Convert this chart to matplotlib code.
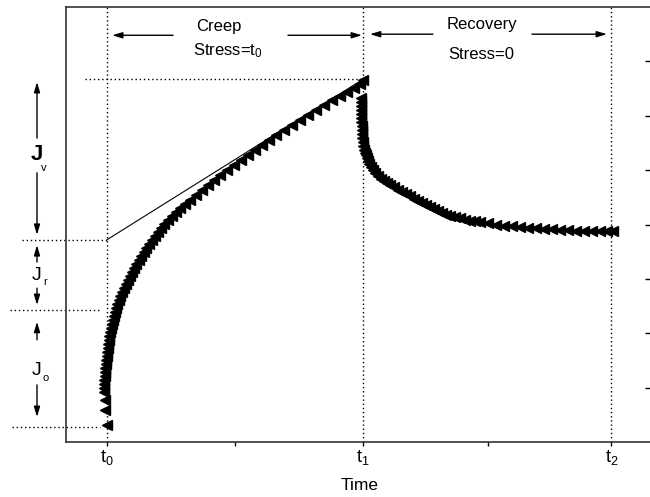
import matplotlib
matplotlib.use("Agg")
import matplotlib.pyplot as plt

plt.rcParams['font.family'] = ['Liberation Sans', 'DejaVu Sans']
plt.rcParams['mathtext.fontset'] = 'custom'
plt.rcParams['mathtext.rm'] = 'Liberation Sans'
plt.rcParams['mathtext.it'] = 'Liberation Sans'

# ---- data (time in arbitrary units: t0=0, t1=100, t2~197) ----
creep_t = [0, -0.8, -0.8, -1.2, -1.2, -1.2, -1.2, -0.8, -0.8, -0.8, -0.4, -0.4, 0, 0,
           0.4, 0.4, 0.8, 0.8, 1.2, 1.6, 2.0, 2.3, 2.7, 3.1, 3.5, 3.9, 4.7, 5.1, 5.9,
           6.6, 7.4, 8.2, 9.0, 9.8, 10.5, 11.3, 12.5, 13.3, 14.5, 15.2, 16.4, 17.6,
           18.8, 19.9, 21.1, 22.3, 23.8, 25.4, 27.0, 28.5, 30.5, 32.4, 34.8, 37.1,
           39.5, 41.8, 44.1, 46.9, 49.6, 52.3, 55.1, 57.8, 60.5, 63.3, 66.0, 69.1,
           72.3, 75.4, 78.5, 81.6, 84.8, 87.9, 91.0, 93.8, 96.5, 98.8, 100]
creep_j = [0.31, 0.59, 0.77, 0.92, 0.99, 1.07, 1.14, 1.21, 1.29, 1.36, 1.43, 1.51, 1.58,
           1.65, 1.73, 1.80, 1.88, 1.95, 2.02, 2.10, 2.17, 2.24, 2.32, 2.39, 2.46,
           2.54, 2.61, 2.68, 2.76, 2.83, 2.90, 2.98, 3.05, 3.13, 3.20, 3.27, 3.35,
           3.42, 3.49, 3.57, 3.64, 3.71, 3.79, 3.86, 3.93, 4.01, 4.08, 4.15, 4.23,
           4.30, 4.38, 4.45, 4.54, 4.63, 4.72, 4.82, 4.91, 5.00, 5.09, 5.18, 5.28,
           5.37, 5.46, 5.55, 5.64, 5.74, 5.83, 5.92, 6.01, 6.10, 6.19, 6.29, 6.36,
           6.43, 6.51, 6.58, 6.65]

recov_t = [99.2, 99.2, 99.2, 99.2, 99.2, 99.2, 99.2, 99.6, 99.6, 99.6, 99.6, 100.0,
           100.0, 100.4, 100.8, 101.2, 101.6, 102.0, 102.3, 103.1, 103.9, 104.7,
           105.9, 107.0, 108.2, 109.4, 110.5, 112.1, 113.7, 115.2, 116.8, 118.4,
           119.9, 121.5, 123.0, 124.6, 126.2, 127.7, 129.3, 130.9, 132.4, 134.0,
           135.9, 137.9, 139.8, 141.8, 143.8, 145.7, 148.8, 152.0, 155.1, 158.2,
           161.3, 164.5, 167.6, 170.7, 173.8, 177.0, 180.1, 183.2, 186.3, 189.5,
           192.6, 195.3, 197.7]
recov_j = [6.33, 6.25, 6.18, 6.11, 6.03, 5.96, 5.89, 5.81, 5.74, 5.66, 5.59, 5.52,
           5.44, 5.37, 5.31, 5.28, 5.22, 5.17, 5.11, 5.06, 5.00, 4.95, 4.89, 4.84,
           4.80, 4.76, 4.73, 4.69, 4.63, 4.60, 4.56, 4.52, 4.47, 4.43, 4.40, 4.36,
           4.32, 4.29, 4.25, 4.21, 4.17, 4.16, 4.14, 4.12, 4.09, 4.07, 4.06, 4.04,
           4.02, 4.00, 3.98, 3.97, 3.95, 3.94, 3.93, 3.92, 3.91, 3.90, 3.89, 3.88,
           3.88, 3.88, 3.88, 3.88, 3.88]

t0, t1, t2 = 0, 100, 197
major_ticks = [t0, t1, t2]
major_labels = [r'$\mathrm{t}_{0}$', r'$\mathrm{t}_{1}$', r'$\mathrm{t}_{2}$']
minor_ticks = [50, 149]
right_ticks = [1, 2, 3, 4, 5, 6, 7]

J_top, J_v_base, J_r_base, J_start = 6.67, 3.72, 2.43, 0.28

# ---- figure ----
W, H = 650, 497
fig = plt.figure(figsize=(6.5, 4.97), dpi=100)
ax = fig.add_axes([66 / W, (H - 442) / H, (653 - 66) / W, (442 - 7) / H])
sc = 100 / 256
ax.set_xlim((66 - 107) * sc, (653 - 107) * sc)
ax.set_ylim(0, 8)

dot = (0, (1, 2))
dkw = dict(color='black', lw=1.0, linestyle=dot)
for tv in (t0, t1, t2):
    ax.axvline(tv, **dkw)

ax.plot([(85 - 107) * sc, t1], [J_top, J_top], clip_on=False, **dkw)
ax.plot([(22 - 107) * sc, t0], [J_v_base, J_v_base], clip_on=False, **dkw)
ax.plot([(10 - 107) * sc, (100 - 107) * sc], [J_r_base, J_r_base], clip_on=False, **dkw)
ax.plot([(12 - 107) * sc, (100 - 107) * sc], [J_start, J_start], clip_on=False, **dkw)

# tangent line
ax.plot([t0, t1], [J_v_base, J_top], color='black', lw=0.8)

# data
ax.plot(creep_t, creep_j, linestyle='none', marker='<', ms=7, color='black')
ax.plot(recov_t, recov_j, linestyle='none', marker='<', ms=7, color='black')

# axes styling
for s in ('left', 'bottom', 'top', 'right'):
    ax.spines[s].set_linewidth(1.2)
    ax.spines[s].set_color('#333333')
ax.set_yticks([])
ax.set_xticks(major_ticks)
ax.set_xticklabels(major_labels, fontsize=13)
ax.set_xticks(minor_ticks, minor=True)
ax.tick_params(axis='x', which='both', direction='out', length=3, width=1, pad=1)
ax.set_xlabel('Time', fontsize=12.5, labelpad=8)

ax2 = ax.twinx()
ax2.set_ylim(0, 8)
ax2.set_yticks(right_ticks)
ax2.set_yticklabels([])
ax2.tick_params(axis='y', direction='in', length=6, width=1)
for s in ax2.spines.values():
    s.set_visible(False)

# top annotations
ap = dict(arrowstyle='-|>,head_length=0.6,head_width=0.18', color='black', lw=1.0,
          shrinkA=0, shrinkB=0)
ax.text(43.8, 7.65, 'Creep', ha='center', va='center', fontsize=12)
ax.text(47.3, 7.19, r'Stress=$\mathrm{t}_{0}$', ha='center', va='center', fontsize=12)
ax.annotate('', xy=(2.0, 7.48), xytext=(25.8, 7.48), arrowprops=ap)
ax.annotate('', xy=(99.6, 7.48), xytext=(70.7, 7.48), arrowprops=ap)
ax.text(146.5, 7.67, 'Recovery', ha='center', va='center', fontsize=12)
ax.text(146.1, 7.12, 'Stress=0', ha='center', va='center', fontsize=12)
ax.annotate('', xy=(102.7, 7.50), xytext=(127.3, 7.50), arrowprops=ap)
ax.annotate('', xy=(195.3, 7.50), xytext=(166.0, 7.50), arrowprops=ap)

# left J annotations
xa = (37 - 107) * sc
def jarrow(y_from, y_to):
    ax.annotate('', xy=(xa, y_to), xytext=(xa, y_from), arrowprops=ap,
                annotation_clip=False)

jarrow(5.59, 6.62); jarrow(4.95, 3.81)
ax.text(xa, 5.28, 'J', ha='center', va='center', fontsize=16, fontweight='bold', clip_on=False)
ax.text((44 - 107) * sc, 5.04, 'v', ha='center', va='center', fontsize=8, clip_on=False)

jarrow(3.31, 3.62); jarrow(2.83, 2.52)
ax.text(xa, 3.07, 'J', ha='center', va='center', fontsize=14, clip_on=False)
ax.text((45 - 107) * sc, 2.94, 'r', ha='center', va='center', fontsize=8, clip_on=False)

jarrow(1.88, 2.21); jarrow(1.05, 0.46)
ax.text(xa, 1.32, 'J', ha='center', va='center', fontsize=14, clip_on=False)
ax.text((46 - 107) * sc, 1.18, 'o', ha='center', va='center', fontsize=8, clip_on=False)

fig.savefig('out.png', dpi=100)
